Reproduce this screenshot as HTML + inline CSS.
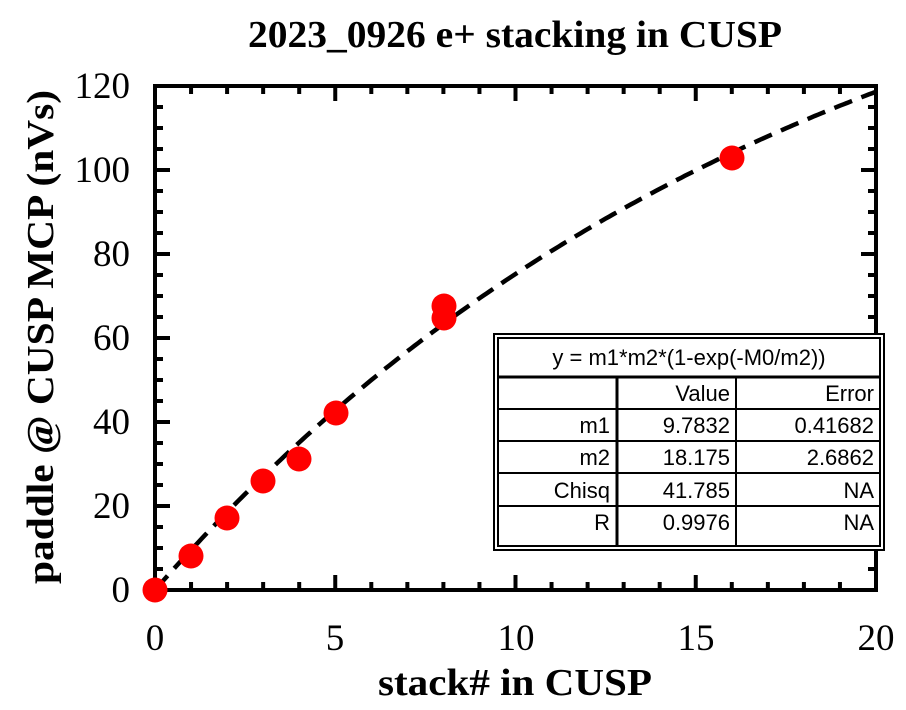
<!DOCTYPE html>
<html><head><style>body{margin:0;background:#fff}svg{display:block}</style></head><body>
<svg id="s" width="906" height="710" xmlns="http://www.w3.org/2000/svg" font-family="Liberation Serif, serif">
<text x="515" y="47" font-size="38" font-weight="bold" text-anchor="middle" textLength="534" lengthAdjust="spacingAndGlyphs">2023_0926 e+ stacking in CUSP</text>
<text transform="translate(53,337) rotate(-90)" font-size="38" font-weight="bold" text-anchor="middle" textLength="494" lengthAdjust="spacingAndGlyphs">paddle @ CUSP MCP (nVs)</text>
<text x="515" y="695" font-size="38" font-weight="bold" text-anchor="middle" textLength="274" lengthAdjust="spacingAndGlyphs">stack# in CUSP</text>
<g font-size="37" text-anchor="end">
<text x="130" y="602">0</text><text x="130" y="518">20</text><text x="130" y="434">40</text><text x="130" y="350">60</text><text x="130" y="266">80</text><text x="130" y="182">100</text><text x="130" y="98">120</text>
</g>
<g font-size="37" text-anchor="middle">
<text x="155" y="650">0</text><text x="335" y="650">5</text><text x="516" y="650">10</text><text x="696" y="650">15</text><text x="876" y="650">20</text>
</g>
<path id="curve" fill="none" stroke="#000" stroke-width="4.5" stroke-dasharray="19,10" d=""/>
<rect x="155" y="86" width="721" height="504" fill="none" stroke="#000" stroke-width="4"/>
<g stroke="#000" stroke-width="4" id="ticks"></g>
<g fill="#f00">
<circle cx="155" cy="590" r="12.5"/><circle cx="191" cy="556" r="12.5"/><circle cx="227" cy="518" r="12.5"/><circle cx="263" cy="481" r="12.5"/><circle cx="299" cy="459" r="12.5"/><circle cx="336" cy="413" r="12.5"/><circle cx="444" cy="306" r="12.5"/><circle cx="444" cy="318" r="12.5"/><circle cx="732" cy="158" r="12.5"/>
</g>
<g font-family="Liberation Sans, sans-serif" font-size="22">
<rect x="494" y="334" width="390" height="216" fill="#fff" stroke="#000" stroke-width="2"/>
<rect x="498" y="338" width="382" height="208" fill="none" stroke="#000" stroke-width="2"/>
<g stroke="#000" stroke-width="2">
<line x1="498" y1="377" x2="880" y2="377" stroke-width="3"/>
<line x1="498" y1="409" x2="880" y2="409"/><line x1="498" y1="441" x2="880" y2="441"/><line x1="498" y1="473" x2="880" y2="473"/><line x1="498" y1="506" x2="880" y2="506"/>
<line x1="617" y1="377" x2="617" y2="546" stroke-width="3"/><line x1="736" y1="377" x2="736" y2="546"/>
</g>
<text x="689" y="365" text-anchor="middle">y = m1*m2*(1-exp(-M0/m2))</text>
<g text-anchor="end">
<text x="730" y="401">Value</text><text x="874" y="401">Error</text>
<text x="610" y="433">m1</text><text x="730" y="433">9.7832</text><text x="874" y="433">0.41682</text>
<text x="610" y="465">m2</text><text x="730" y="465">18.175</text><text x="874" y="465">2.6862</text>
<text x="610" y="498">Chisq</text><text x="730" y="498">41.785</text><text x="874" y="498">NA</text>
<text x="610" y="530">R</text><text x="730" y="530">0.9976</text><text x="874" y="530">NA</text>
</g>
</g>
<script>
var d="";for(var i=0;i<=200;i++){var x=i*0.1;var y=9.7832*18.175*(1-Math.exp(-x/18.175));d+=(i?"L":"M")+(155+x*36.05).toFixed(1)+","+(590-y*4.2).toFixed(1);}
document.getElementById("curve").setAttribute("d",d);
var g=document.getElementById("ticks"),NS="http://www.w3.org/2000/svg";
function ln(a,b,c,e){var l=document.createElementNS(NS,"line");l.setAttribute("x1",a);l.setAttribute("y1",b);l.setAttribute("x2",c);l.setAttribute("y2",e);g.appendChild(l);}
for(var k=1;k<20;k++){var X=155+k*36.05,L=(k%5==0)?15:8;ln(X,590,X,590-L);ln(X,86,X,86+L);}
for(var k=1;k<24;k++){var Y=590-k*21,L=(k%4==0)?15:8;ln(155,Y,155+L,Y);ln(876,Y,876-L,Y);}
</script>
</svg>
</body></html>
